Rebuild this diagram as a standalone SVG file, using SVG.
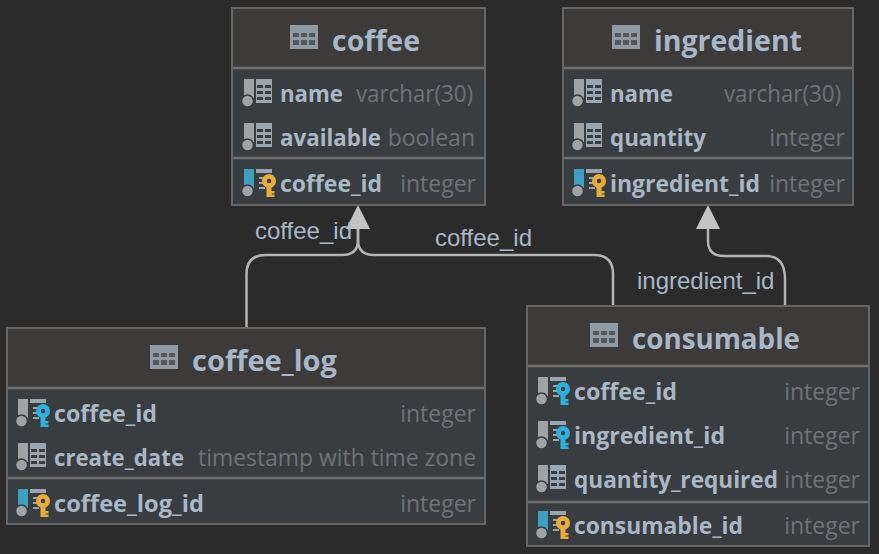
<svg xmlns="http://www.w3.org/2000/svg" xmlns:xlink="http://www.w3.org/1999/xlink" width="879" height="554" viewBox="0 0 879 554">
<style>
.box{fill:#393d40;stroke:#666;stroke-width:2}
.head{fill:#3c3b3a}
.div{stroke:#6f6f6f;stroke-width:2.5}
.title{font:700 28.7px "Open Sans","Liberation Sans",sans-serif;fill:#a9b7c6;text-anchor:start}
.col{font:700 23px "Open Sans","Liberation Sans",sans-serif;fill:#a9b7c6}
.typ{font:400 23px "Open Sans","Liberation Sans",sans-serif;fill:#6f7376;text-anchor:end}
.lbl{font:400 24px "Liberation Sans",Arial,sans-serif;fill:#a9b7c6}
.edge{fill:none;stroke:#b4b4b4;stroke-width:2.5}
</style>
<defs>
<symbol id="tbl" overflow="visible"><rect width="28" height="24" fill="#8f9aa2"/><g fill="#55585a"><rect x="3" y="8" width="6" height="4"/><rect x="11" y="8" width="6" height="4"/><rect x="19" y="8" width="6" height="4"/><rect x="3" y="15" width="6" height="5"/><rect x="11" y="15" width="6" height="5"/><rect x="19" y="15" width="6" height="5"/></g></symbol>
<symbol id="plain" overflow="visible"><rect x="1" width="10" height="19" fill="#9ea3a6"/><circle cx="4.500" cy="22" r="6" fill="#9ea3a6" stroke="#393d40" stroke-width="1.5"/><rect x="13" width="16" height="24" fill="#9aa7b0"/><g fill="#393d40"><rect x="14" y="6" width="6" height="3"/><rect x="22" y="6" width="6" height="3"/><rect x="14" y="12" width="6" height="3"/><rect x="22" y="12" width="6" height="3"/><rect x="14" y="18" width="6" height="3"/><rect x="22" y="18" width="6" height="3"/></g></symbol>
<symbol id="base" overflow="visible"><rect x="13" width="16" height="4" fill="#9aa7b0"/><rect x="16" y="8" width="6" height="2" fill="#9aa7b0"/><rect x="16" y="13" width="5" height="2" fill="#9aa7b0"/><rect x="16" y="18" width="6" height="2" fill="#9aa7b0"/></symbol>
<symbol id="key" overflow="visible"><circle cx="8" cy="7" r="7" fill="currentColor"/><circle cx="8" cy="7" r="2.200" fill="#393d40"/><rect x="5.500" y="12" width="5" height="11" fill="currentColor"/><rect x="9" y="17" width="4.500" height="2.500" fill="currentColor"/><rect x="9" y="20.500" width="4.500" height="2.500" fill="currentColor"/></symbol>
<symbol id="pk" overflow="visible"><use href="#base"/><rect x="1" width="10" height="19" fill="#3f9fc0"/><circle cx="4.500" cy="22" r="6" fill="#9ea3a6" stroke="#393d40" stroke-width="1.5"/><use href="#key" x="18" y="5" color="#e8ac3c"/></symbol>
<symbol id="fk" overflow="visible"><use href="#base"/><rect x="1" width="10" height="19" fill="#9ea3a6"/><circle cx="4.500" cy="22" r="6" fill="#9ea3a6" stroke="#393d40" stroke-width="1.5"/><use href="#key" x="18" y="5" color="#2fb0dc"/></symbol>
</defs>
<rect width="879" height="554" fill="#2b2b2b"/>

<g id="connectors">
<path class="edge" d="M246.500 327V274Q246.500 255 266 255H342Q358 255 358 240V225"/>
<path class="edge" d="M613 305V274Q613 255 594 255H374Q358 255 358 240V225"/>
<path class="edge" d="M785 305V279Q785 256 766 256H724Q708 256 708 241V225"/>
<polygon points="358,205 346,229 370,229" fill="#c4c4c4"/>
<polygon points="708,205 696,229 720,229" fill="#c4c4c4"/>
<text class="lbl" x="255" y="239">coffee_id</text>
<text class="lbl" x="435" y="246">coffee_id</text>
<text class="lbl" x="637" y="289">ingredient_id</text>
</g>

<g id="coffee">
<rect class="box" x="232" y="8" width="253" height="197"/>
<rect class="head" x="233" y="9" width="251" height="59"/>
<path class="div" d="M233 68H484M233 158H484"/>
<use href="#tbl" x="290" y="25"/>
<text class="title" x="332" y="51" textLength="88" lengthAdjust="spacingAndGlyphs">coffee</text>
<use href="#plain" x="243" y="79"/><text class="col" x="280" y="101.500" textLength="63" lengthAdjust="spacingAndGlyphs">name</text><text class="typ" x="473" y="101.500" textLength="117" lengthAdjust="spacingAndGlyphs">varchar(30)</text>
<use href="#plain" x="243" y="123"/><text class="col" x="280" y="145.500" textLength="101" lengthAdjust="spacingAndGlyphs">available</text><text class="typ" x="475" y="145.500">boolean</text>
<use href="#pk" x="243" y="169"/><text class="col" x="280" y="191.500" textLength="102" lengthAdjust="spacingAndGlyphs">coffee_id</text><text class="typ" x="476" y="191.500">integer</text>
</g>

<g id="ingredient">
<rect class="box" x="563" y="8" width="290" height="197"/>
<rect class="head" x="564" y="9" width="288" height="59"/>
<path class="div" d="M564 68H852M564 158H852"/>
<use href="#tbl" x="612" y="25"/>
<text class="title" x="654" y="51" textLength="148" lengthAdjust="spacingAndGlyphs">ingredient</text>
<use href="#plain" x="573" y="79"/><text class="col" x="610" y="101.500" textLength="63" lengthAdjust="spacingAndGlyphs">name</text><text class="typ" x="841" y="101.500" textLength="117" lengthAdjust="spacingAndGlyphs">varchar(30)</text>
<use href="#plain" x="573" y="123"/><text class="col" x="610" y="145.500" textLength="96" lengthAdjust="spacingAndGlyphs">quantity</text><text class="typ" x="845" y="145.500">integer</text>
<use href="#pk" x="573" y="169"/><text class="col" x="610" y="191.500" textLength="150" lengthAdjust="spacingAndGlyphs">ingredient_id</text><text class="typ" x="845" y="191.500">integer</text>
</g>

<g id="coffee_log">
<rect class="box" x="7" y="328" width="478" height="196"/>
<rect class="head" x="8" y="329" width="476" height="59"/>
<path class="div" d="M8 388H484M8 478H484"/>
<use href="#tbl" x="150" y="345"/>
<text class="title" x="192" y="371" textLength="145" lengthAdjust="spacingAndGlyphs">coffee_log</text>
<use href="#fk" x="17" y="399"/><text class="col" x="54" y="421.500" textLength="103" lengthAdjust="spacingAndGlyphs">coffee_id</text><text class="typ" x="476" y="421.500">integer</text>
<use href="#plain" x="17" y="443"/><text class="col" x="54" y="465.500" textLength="130" lengthAdjust="spacingAndGlyphs">create_date</text><text class="typ" x="476" y="465.500" textLength="278" lengthAdjust="spacingAndGlyphs">timestamp with time zone</text>
<use href="#pk" x="17" y="489"/><text class="col" x="54" y="511.500" textLength="150" lengthAdjust="spacingAndGlyphs">coffee_log_id</text><text class="typ" x="476" y="511.500">integer</text>
</g>

<g id="consumable">
<rect class="box" x="527" y="306" width="342" height="240"/>
<rect class="head" x="528" y="307" width="340" height="59"/>
<path class="div" d="M528 366H868M528 502H868"/>
<use href="#tbl" x="590" y="323"/>
<text class="title" x="632" y="349" textLength="168" lengthAdjust="spacingAndGlyphs">consumable</text>
<use href="#fk" x="537" y="377"/><text class="col" x="574" y="399.500" textLength="103" lengthAdjust="spacingAndGlyphs">coffee_id</text><text class="typ" x="860" y="399.500">integer</text>
<use href="#fk" x="537" y="421"/><text class="col" x="574" y="443.500" textLength="151" lengthAdjust="spacingAndGlyphs">ingredient_id</text><text class="typ" x="860" y="443.500">integer</text>
<use href="#plain" x="537" y="465"/><text class="col" x="574" y="487.500" textLength="204" lengthAdjust="spacingAndGlyphs">quantity_required</text><text class="typ" x="860" y="487.500">integer</text>
<use href="#pk" x="537" y="511"/><text class="col" x="574" y="533.500" textLength="169" lengthAdjust="spacingAndGlyphs">consumable_id</text><text class="typ" x="860" y="533.500">integer</text>
</g>
</svg>
